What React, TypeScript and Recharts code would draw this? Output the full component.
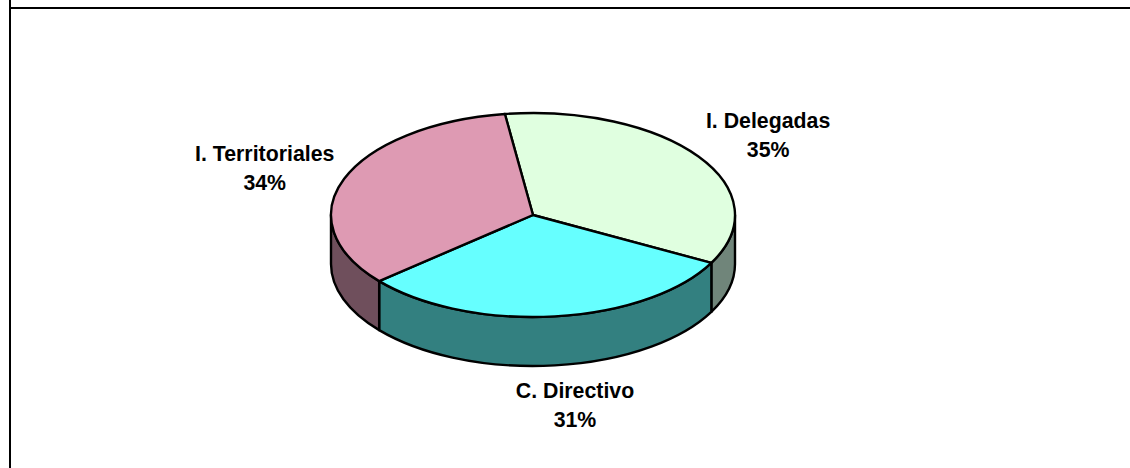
import React from "react";
import { PieChart, Pie } from "recharts";

const categories = ["I. Delegadas", "C. Directivo", "I. Territoriales"];
const shares = [35, 31, 34];
const topColors = ["#E0FFE0", "#66FFFF", "#DE9AB3"];
const wallColors = ["#70857A", "#338080", "#6F4F5C"];

const data = categories.map((name, i) => ({ name, value: shares[i] }));

const WIDTH = 1130;
const HEIGHT = 468;
const CX = 533;
const CY = 215;
const RX = 202;
const SQUASH = 102 / 202;
const DEPTH = 49;
const LINE = "#000000";
const FONT = "'Liberation Sans', Arial, sans-serif";

const pt = (cx: number, cy: number, r: number, a: number) => {
  const rad = (a * Math.PI) / 180;
  return { x: cx + r * Math.cos(rad), y: cy - r * SQUASH * Math.sin(rad) };
};

const SectorShape = (props: any) => {
  const { cx, cy, outerRadius: r, startAngle, endAngle, index } = props;
  const ry = r * SQUASH;
  const s = pt(cx, cy, r, startAngle);
  const e = pt(cx, cy, r, endAngle);
  const large = Math.abs(startAngle - endAngle) > 180 ? 1 : 0;
  const top = `M${cx},${cy} L${s.x},${s.y} A${r},${ry} 0 ${large} 1 ${e.x},${e.y} Z`;

  const wStart = Math.min(startAngle, 0);
  const wEnd = Math.max(endAngle, -180);
  let wall = null;
  if (wStart > wEnd) {
    const a = pt(cx, cy, r, wStart);
    const b = pt(cx, cy, r, wEnd);
    const d =
      `M${a.x},${a.y} A${r},${ry} 0 0 1 ${b.x},${b.y} ` +
      `L${b.x},${b.y + DEPTH} A${r},${ry} 0 0 0 ${a.x},${a.y + DEPTH} Z`;
    wall = (
      <path d={d} fill={wallColors[index]} stroke={LINE} strokeWidth={2.4} strokeLinejoin="round" />
    );
  }
  return (
    <g>
      {wall}
      <path d={top} fill={topColors[index]} stroke={LINE} strokeWidth={2.4} strokeLinejoin="round" />
    </g>
  );
};

const renderLabel = (props: any) => {
  const { cx, cy, midAngle, name, value } = props;
  const rad = (midAngle * Math.PI) / 180;
  const sin = Math.sin(rad);
  const lower = sin < 0;
  const x = cx + 287 * Math.cos(rad) + (lower ? 11 : 0);
  const y = cy - 152 * sin + (lower ? 32 : 0);
  return (
    <text x={x} y={y} textAnchor="middle" fontFamily={FONT} fontWeight={700} fontSize={21.3} fill="#000">
      <tspan x={x} y={y}>{name}</tspan>
      <tspan x={x} y={y + 29}>{`${value}%`}</tspan>
    </text>
  );
};

export default function App() {
  return (
    <div style={{ position: "absolute", left: 0, top: 0, width: WIDTH, height: HEIGHT, background: "#fff", overflow: "hidden" }}>
      <div style={{ position: "absolute", left: 9, top: 0, width: 2, height: HEIGHT, background: "#000" }} />
      <div style={{ position: "absolute", left: 9, top: 7, width: WIDTH - 9, height: 2, background: "#000" }} />
      <div style={{ position: "absolute", left: 0, top: 0 }}>
        <PieChart width={WIDTH} height={HEIGHT} margin={{ top: 0, right: 0, bottom: 0, left: 0 }}>
          <Pie
            data={data}
            dataKey="value"
            nameKey="name"
            cx={CX}
            cy={CY}
            outerRadius={RX}
            innerRadius={0}
            startAngle={98}
            endAngle={-262}
            shape={SectorShape}
            label={renderLabel}
            labelLine={false}
            isAnimationActive={false}
          />
        </PieChart>
      </div>
    </div>
  );
}
